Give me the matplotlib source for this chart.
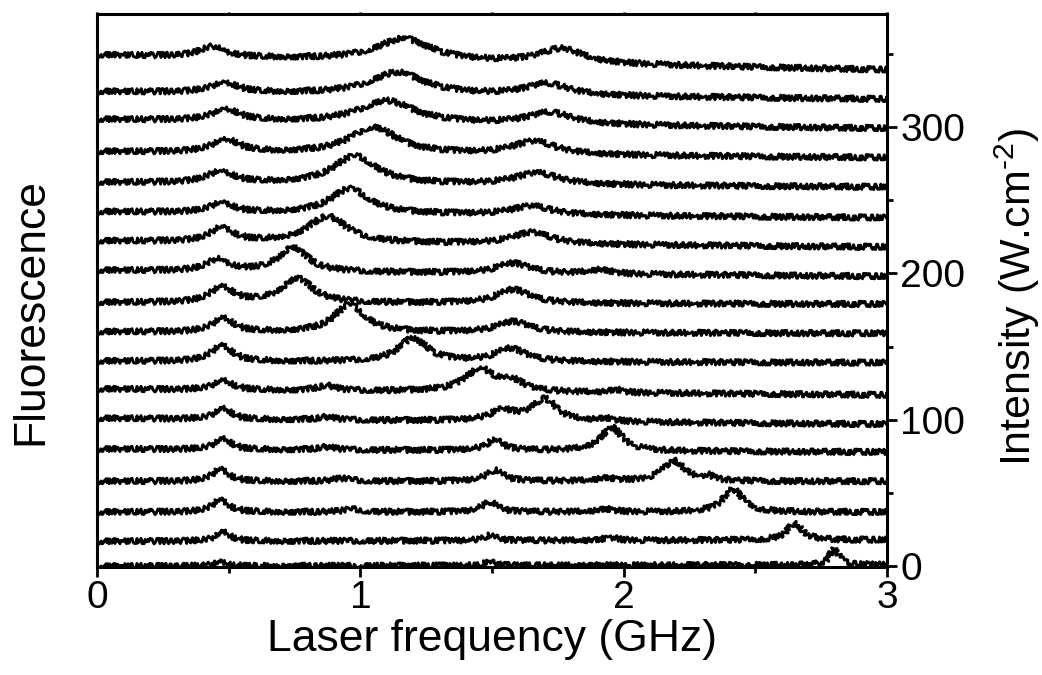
import numpy as np
import matplotlib

matplotlib.use("Agg")
import matplotlib.pyplot as plt

plt.rcParams["font.family"] = ["Liberation Sans", "DejaVu Sans"]
plt.rcParams["mathtext.fontset"] = "custom"
plt.rcParams["mathtext.rm"] = "Liberation Sans"
plt.rcParams["mathtext.it"] = "Liberation Sans:italic"

# laser intensity of each trace (W/cm^2), read at the left (0 GHz) and right (3 GHz) ends
BASE_LO = [0, 17, 37, 58, 80, 101, 121, 140, 160, 180, 202, 222, 242, 262, 283, 305, 324, 349]
BASE_HI = [1, 18, 37, 58, 78, 97, 117, 139, 159, 179, 198, 218, 238, 259, 279, 299, 319, 339]

# fluorescence lines per trace, bottom -> top: centre (GHz), height (axis units), FWHM (GHz)
CENTERS = [
    [0.47, 1.49, 2.80],
    [0.48, 1.49, 1.95, 2.65],
    [0.47, 0.97, 1.49, 1.93, 2.415],
    [0.47, 0.93, 1.51, 1.93, 2.19, 2.32],
    [0.48, 0.87, 1.51, 1.955],
    [0.48, 0.87, 1.54, 1.70, 1.93],
    [0.48, 0.87, 1.455, 1.58, 1.97],
    [0.475, 1.20, 1.57],
    [0.48, 0.96, 1.58],
    [0.475, 0.76, 1.58],
    [0.46, 0.745, 1.58, 1.91],
    [0.475, 0.875, 1.65],
    [0.475, 0.96, 1.65],
    [0.47, 0.98, 1.67],
    [0.49, 1.05, 1.66],
    [0.49, 1.10, 1.72],
    [0.485, 1.14, 1.71],
    [0.44, 1.165, 1.765],
]
HEIGHTS = [
    [3.5, 2.5, 11.5],
    [7, 3.5, 2, 11.5],
    [9, 2, 7, 2, 15.5],
    [9, 2, 7.5, 2, 14, 3],
    [8, 2, 7, 16],
    [8, 2, 7, 15, 2],
    [7, 3.5, 15.5, 6, 2],
    [11.5, 16, 9],
    [10, 19, 7.5],
    [11, 17, 9.5],
    [8, 17, 7, 3],
    [10, 18, 8],
    [7, 17, 6],
    [8, 19, 8],
    [9, 18, 9],
    [8, 15, 8],
    [7, 15, 8],
    [7, 15, 10],
]
WIDTHS = [
    [0.05, 0.05, 0.04],
    [0.06, 0.06, 0.06, 0.07],
    [0.07, 0.08, 0.07, 0.08, 0.09],
    [0.07, 0.08, 0.08, 0.08, 0.10, 0.05],
    [0.07, 0.08, 0.08, 0.10],
    [0.07, 0.08, 0.12, 0.11, 0.08],
    [0.08, 0.08, 0.14, 0.10, 0.06],
    [0.09, 0.13, 0.14],
    [0.09, 0.14, 0.15],
    [0.10, 0.14, 0.15],
    [0.10, 0.13, 0.15, 0.10],
    [0.10, 0.18, 0.18],
    [0.10, 0.18, 0.18],
    [0.12, 0.20, 0.20],
    [0.12, 0.22, 0.20],
    [0.12, 0.25, 0.20],
    [0.12, 0.25, 0.20],
    [0.12, 0.25, 0.20],
]

X_TICKS = [0, 1, 2, 3]
Y_TICKS = [0, 100, 200, 300]


def spectrum(freq, lo, hi, centers, heights, widths):
    y = lo + (hi - lo) * freq / 3.0
    for c, h, w in zip(centers, heights, widths):
        y = y + h / (1.0 + ((freq - c) / (w / 2.0)) ** 2)
    return y


def main():
    freq = np.linspace(0, 3, 1500)
    fig = plt.figure(figsize=(10.42, 6.75), dpi=100)
    ax = fig.add_axes([0.0931, 0.16, 0.7581, 0.819])

    for lo, hi, c, h, w in zip(BASE_LO, BASE_HI, CENTERS, HEIGHTS, WIDTHS):
        line, = ax.plot(freq, spectrum(freq, lo, hi, c, h, w), color="black", lw=2.1,
                        solid_joinstyle="round")
        # measurement noise look via the renderer's sketch effect
        line.set_sketch_params(scale=2.8, length=2.2, randomness=4.0)

    ax.set_xlim(0, 3)
    ax.set_ylim(-0.5, 377)
    ax.set_xticks(X_TICKS)
    ax.set_xticks([0.5, 1.5, 2.5], minor=True)
    ax.set_yticks(Y_TICKS)
    ax.set_yticks([50, 150, 250, 350], minor=True)
    ax.yaxis.tick_right()

    for s in ax.spines.values():
        s.set_linewidth(2.2)
    ax.tick_params(axis="both", which="major", direction="out", length=7.5, width=2.0,
                   labelsize=28, pad=2)
    ax.tick_params(axis="both", which="minor", direction="out", length=4, width=2.0)
    ax.xaxis.set_ticks_position("both")
    # top ticks are only tiny nubs in the original
    for t in ax.xaxis.get_major_ticks() + ax.xaxis.get_minor_ticks():
        t.tick2line.set_markersize(1.5)

    ax.set_xlabel("Laser frequency (GHz)", fontsize=32, labelpad=2)
    fig.text(0.03, 0.539, "Fluorescence", rotation=90, fontsize=32, ha="center", va="center")
    fig.text(0.976, 0.56, r"Intensity (W.cm$^{\text{-}2}$)", rotation=90, fontsize=31,
             ha="center", va="center")

    fig.savefig("out.png", dpi=100)


if __name__ == "__main__":
    main()
